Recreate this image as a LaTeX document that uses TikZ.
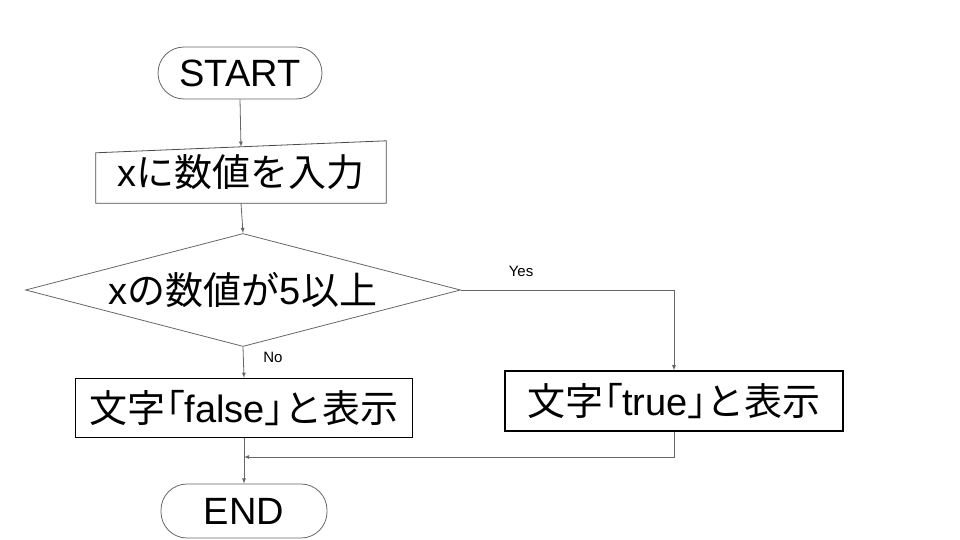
\documentclass[tikz,border=0pt]{standalone}
\usepackage{fontspec}
\setmainfont{Liberation Sans}
\newfontfamily\jp{Noto Sans CJK JP}
\newfontfamily\jb[RawFeature=+palt]{Noto Sans CJK JP}
\usetikzlibrary{positioning,shapes,calc}

\tikzset{
  term/.style={draw=black!60, line width=0.8pt, rounded corners=26pt, font=\fontsize{38}{42}\selectfont},
  proc/.style={draw=black, line width=1.2pt, inner sep=0pt, font=\fontsize{38}{42}\selectfont},
  iobox/.style={inner sep=0pt, font=\fontsize{38}{42}\selectfont},
  test/.style={diamond, draw=black!60, line width=0.8pt, inner sep=0pt, aspect=3.85, font=\fontsize{38}{42}\selectfont},
  flow/.style={draw=black!60, line width=0.8pt, ->, >=latex},
  tag/.style={font=\fontsize{15}{17}\selectfont}
}

\begin{document}
\begin{tikzpicture}[x=1pt, y=-1pt]
  \useasboundingbox (0,0) rectangle (960,540);

  \node[term, minimum width=164pt, minimum height=52pt] (start) at (240,73) {START};
  \node[iobox, minimum width=290pt, minimum height=62pt] (input) at (241,172) {x{\jp に数値を入力}};
  \draw[draw=black!70, line width=0.8pt] ($(input.north west)+(0,12)$) -- (input.north east)
        -- (input.south east) -- (input.south west) -- cycle;
  \coordinate (intop) at ($(input.north west)!0.5!(input.north east)+(0,6)$);
  \node[test, minimum width=435pt, minimum height=113pt] (cond) at (243,290) {x{\jp の数値が}5{\jp 以上}};
  \node[proc, minimum width=337pt, minimum height=59pt] (false) at (244,408) {{\jp 文字}{\jb 「}false{\jb 」}{\jp と表示}};
  \node[proc, minimum width=338pt, minimum height=60pt] (true) at (674,401) {{\jp 文字}{\jb 「}true{\jb 」}{\jp と表示}};
  \node[term, minimum width=166pt, minimum height=54pt] (end) at (244,511) {END};
  \coordinate (join) at (244,457);

  % connectors
  \draw[flow] (start.south) -- (intop);
  \draw[flow] (input.south) -- (cond.north);
  \draw[flow] (cond.east) -| (true.north);
  \draw[flow] (cond.south) -- (false.north);
  \draw[flow] (false.south) -- (end.north);
  \draw[flow] (true.south) |- (join);

  \node[tag] (yes) at (521,271) {Yes};
  \node[tag] (no) at (273,357) {No};
\end{tikzpicture}
\end{document}
